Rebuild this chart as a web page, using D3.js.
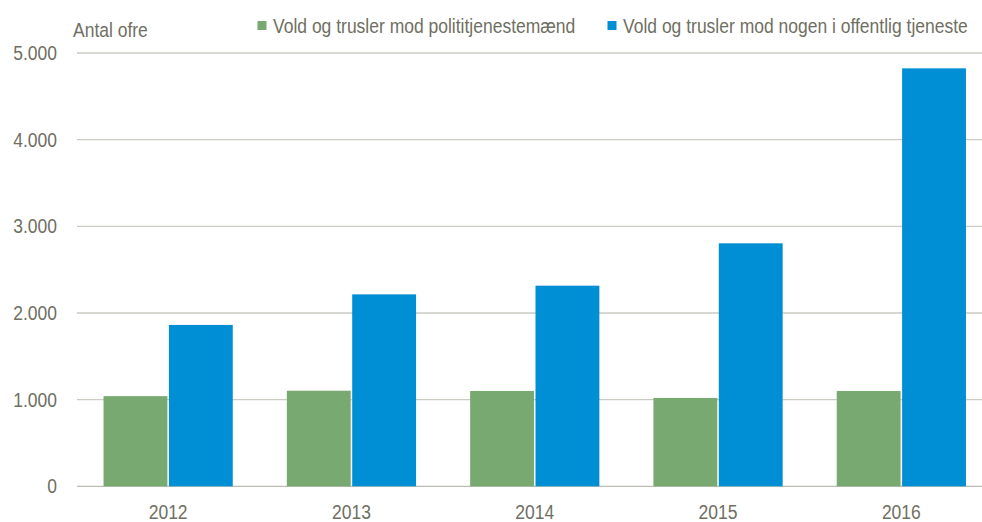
<!DOCTYPE html>
<html>
<head>
<meta charset="utf-8">
<script src="https://cdn.jsdelivr.net/npm/d3@7"></script>
<style>
  html, body { margin: 0; padding: 0; background: #fff; }
  svg { display: block; }
  text { font-family: "Liberation Sans", Arial, sans-serif; fill: #6f6f62; }
</style>
</head>
<body>
<svg id="chart" width="982" height="522"></svg>
<script>
const years = ["2012", "2013", "2014", "2015", "2016"];
const seriesNames = ["Vold og trusler mod polititjenestemænd", "Vold og trusler mod nogen i offentlig tjeneste"];
const politi = [1040, 1103, 1100, 1020, 1100];
const offentlig = [1862, 2215, 2315, 2804, 4823];
const yTicks = [0, 1000, 2000, 3000, 4000, 5000];
const yTickLabels = ["0", "1.000", "2.000", "3.000", "4.000", "5.000"];
const colors = ["#78a970", "#008fd5"];
const yTitle = "Antal ofre";

const svg = d3.select("#chart");
const W = 982, H = 522;
const mLeft = 76.5, mRight = 993, mTop = 53, mBottom = 486.3;
const FS = 17.5, SY = 1.17;
const place = (x, yy) => `translate(${x},${yy}) scale(1,${SY})`;

const y = d3.scaleLinear().domain([0, 5000]).range([mBottom, mTop]);
const x0 = d3.scaleBand().domain(years).range([mLeft, mRight]).paddingInner(0.295).paddingOuter(0.1475);
const x1 = d3.scaleBand().domain([0, 1]).range([0, x0.bandwidth()]).paddingInner(0.023).paddingOuter(0);

// gridlines
svg.append("g").selectAll("line").data(yTicks).join("line")
  .attr("x1", 77).attr("x2", W)
  .attr("y1", d => y(d)).attr("y2", d => y(d))
  .attr("stroke", d => d === 0 ? "#bdbdb2" : "#cbcbc3")
  .attr("stroke-width", 1.3);

// y tick labels
svg.append("g").selectAll("text").data(yTicks).join("text")
  .attr("transform", d => place(57, y(d) + 7))
  .attr("text-anchor", "end")
  .attr("font-size", FS)
  .text((d, i) => yTickLabels[i]);

// bars
const rows = years.map((yr, i) => ({ yr, vals: [politi[i], offentlig[i]] }));
const g = svg.append("g").selectAll("g").data(rows).join("g")
  .attr("transform", d => `translate(${x0(d.yr)},0)`);
g.selectAll("rect").data(d => d.vals.map((v, k) => ({ v, k }))).join("rect")
  .attr("x", d => x1(d.k))
  .attr("width", x1.bandwidth())
  .attr("y", d => y(d.v))
  .attr("height", d => y(0) - y(d.v))
  .attr("fill", d => colors[d.k]);

// x labels
svg.append("g").selectAll("text").data(years).join("text")
  .attr("transform", d => place(x0(d) + x0.bandwidth() / 2, 518.5))
  .attr("text-anchor", "middle")
  .attr("font-size", FS)
  .text(d => d);

// y title
svg.append("text").attr("transform", place(73, 37)).attr("font-size", FS).text(yTitle);

// legend
const legX = [257.5, 607.5];
seriesNames.forEach((name, k) => {
  svg.append("rect").attr("x", legX[k]).attr("y", 21).attr("width", 9).attr("height", 9).attr("fill", colors[k]);
  svg.append("text").attr("transform", place(legX[k] + 15.5, 33.3)).attr("font-size", FS).text(name);
});
</script>
</body>
</html>
